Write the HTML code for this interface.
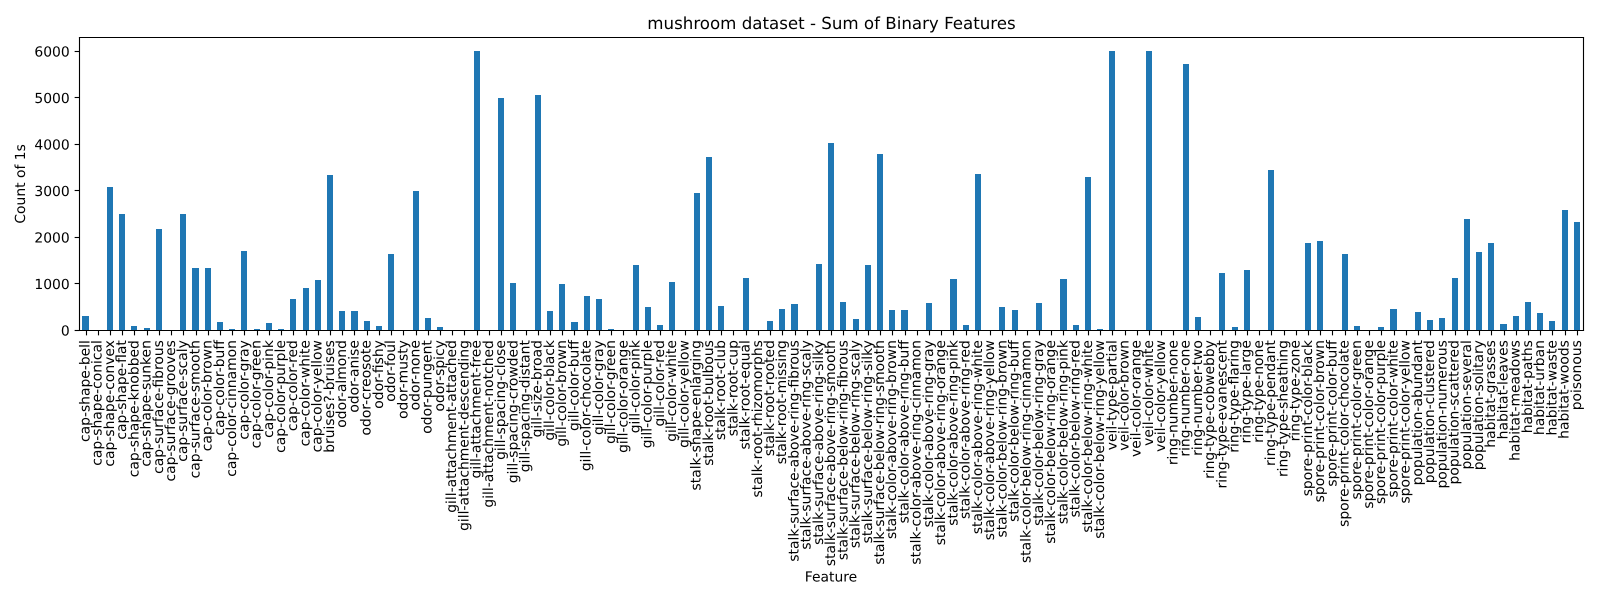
<!DOCTYPE html>
<html lang="en">
<head>
<meta charset="utf-8">
<title>mushroom dataset - Sum of Binary Features</title>
<style>
html,body{margin:0;padding:0;background:#fff;}
#chart{display:block;width:1600px;height:600px;}
text{font-family:"DejaVu Sans","Liberation Sans",sans-serif;fill:#000;text-rendering:geometricPrecision;}
</style>
</head>
<body>
<svg id="chart" xmlns="http://www.w3.org/2000/svg" width="1600" height="600" viewBox="0 0 1600 600">
  <rect x="0" y="0" width="1600" height="600" fill="#fff"/>
  <g id="bars"></g>
  <g id="x-ticks"></g>
  <g id="y-ticks"></g>
  <g id="spines"></g>
  <text x="831.5" y="29" font-size="16.67" text-anchor="middle">mushroom dataset - Sum of Binary Features</text>
  <text x="831" y="581.5" font-size="13.89" text-anchor="middle">Feature</text>
  <text transform="translate(25 183.9) rotate(-90)" font-size="13.89" text-anchor="middle">Count of 1s</text>
</svg>
<script>
const categories = [
  "cap-shape-bell","cap-shape-conical","cap-shape-convex","cap-shape-flat","cap-shape-knobbed","cap-shape-sunken",
  "cap-surface-fibrous","cap-surface-grooves","cap-surface-scaly","cap-surface-smooth",
  "cap-color-brown","cap-color-buff","cap-color-cinnamon","cap-color-gray","cap-color-green","cap-color-pink","cap-color-purple","cap-color-red","cap-color-white","cap-color-yellow",
  "bruises?-bruises",
  "odor-almond","odor-anise","odor-creosote","odor-fishy","odor-foul","odor-musty","odor-none","odor-pungent","odor-spicy",
  "gill-attachment-attached","gill-attachment-descending","gill-attachment-free","gill-attachment-notched",
  "gill-spacing-close","gill-spacing-crowded","gill-spacing-distant","gill-size-broad",
  "gill-color-black","gill-color-brown","gill-color-buff","gill-color-chocolate","gill-color-gray","gill-color-green","gill-color-orange","gill-color-pink","gill-color-purple","gill-color-red","gill-color-white","gill-color-yellow",
  "stalk-shape-enlarging",
  "stalk-root-bulbous","stalk-root-club","stalk-root-cup","stalk-root-equal","stalk-root-rhizomorphs","stalk-root-rooted","stalk-root-missing",
  "stalk-surface-above-ring-fibrous","stalk-surface-above-ring-scaly","stalk-surface-above-ring-silky","stalk-surface-above-ring-smooth",
  "stalk-surface-below-ring-fibrous","stalk-surface-below-ring-scaly","stalk-surface-below-ring-silky","stalk-surface-below-ring-smooth",
  "stalk-color-above-ring-brown","stalk-color-above-ring-buff","stalk-color-above-ring-cinnamon","stalk-color-above-ring-gray","stalk-color-above-ring-orange","stalk-color-above-ring-pink","stalk-color-above-ring-red","stalk-color-above-ring-white","stalk-color-above-ring-yellow",
  "stalk-color-below-ring-brown","stalk-color-below-ring-buff","stalk-color-below-ring-cinnamon","stalk-color-below-ring-gray","stalk-color-below-ring-orange","stalk-color-below-ring-pink","stalk-color-below-ring-red","stalk-color-below-ring-white","stalk-color-below-ring-yellow",
  "veil-type-partial",
  "veil-color-brown","veil-color-orange","veil-color-white","veil-color-yellow",
  "ring-number-none","ring-number-one","ring-number-two",
  "ring-type-cobwebby","ring-type-evanescent","ring-type-flaring","ring-type-large","ring-type-none","ring-type-pendant","ring-type-sheathing","ring-type-zone",
  "spore-print-color-black","spore-print-color-brown","spore-print-color-buff","spore-print-color-chocolate","spore-print-color-green","spore-print-color-orange","spore-print-color-purple","spore-print-color-white","spore-print-color-yellow",
  "population-abundant","population-clustered","population-numerous","population-scattered","population-several","population-solitary",
  "habitat-grasses","habitat-leaves","habitat-meadows","habitat-paths","habitat-urban","habitat-waste","habitat-woods",
  "poisonous"
];
const counts = [
  301,0,3075,2495,86,43,
  2172,0,2495,1333,
  1333,172,25,1699,20,150,20,667,903,1075,
  3333,
  409,409,194,86,1634,0,2989,258,65,
  0,0,6000,0,
  4996,1011,0,5054,
  409,989,172,731,667,22,0,1398,495,108,1032,0,
  2946,
  3720,516,0,1118,0,194,452,
  559,0,1419,4022,
  602,237,1398,3785,
  430,430,0,581,0,1097,108,3355,0,
  495,430,0,581,0,1097,108,3290,22,
  6000,
  0,0,6000,0,
  0,5720,280,
  0,1226,65,1290,0,3441,0,0,
  1871,1914,0,1634,86,0,65,452,0,
  387,215,258,1118,2387,1677,
  1871,129,301,602,366,194,2581,
  2323
];
const yTickValues = [0,1000,2000,3000,4000,5000,6000];

const SVG_NS = "http://www.w3.org/2000/svg";
const plotLeft = 79.41, plotRight = 1583.0, plotTop = 37.4, plotBottom = 330.4;
const xDomainMin = -0.5, xDomainMax = categories.length - 0.5;
const yDomainMin = 0, yDomainMax = Math.max(...counts) * 1.05;
const barWidthUnits = 0.5;
const TICK_LEN = 4.86, TICK_PAD = 4.86, TICK_W = 1.11;

function xScale(i){
  return plotLeft + (i - xDomainMin) / (xDomainMax - xDomainMin) * (plotRight - plotLeft);
}
function yScale(v){
  return plotBottom - (v - yDomainMin) / (yDomainMax - yDomainMin) * (plotBottom - plotTop);
}
function snapLine(p){ return Math.floor(p + 0.5) + 0.5; }
function snapEdge(p){ return Math.floor(p + 0.5); }
function node(tag, attrs){
  const el = document.createElementNS(SVG_NS, tag);
  for (const k in attrs) el.setAttribute(k, attrs[k]);
  return el;
}

const barsG = document.getElementById("bars");
const xTicksG = document.getElementById("x-ticks");
const yTicksG = document.getElementById("y-ticks");
const spinesG = document.getElementById("spines");
const axisBottomPx = snapLine(plotBottom - 0.5);

categories.forEach(function(name, i){
  const x0 = snapEdge(xScale(i - barWidthUnits / 2));
  const x1 = snapEdge(xScale(i + barWidthUnits / 2));
  const yTop = snapEdge(yScale(counts[i]));
  const yBase = snapEdge(yScale(0));
  const bar = node("rect", {x: x0, y: yTop, width: x1 - x0, height: Math.max(0, yBase - yTop), fill: "#1f77b4", "shape-rendering": "crispEdges"});
  
  
  barsG.appendChild(bar);

  const tx = snapLine(xScale(i) - 0.0);
  const tick = node("line", {x1: tx, x2: tx, y1: axisBottomPx, y2: axisBottomPx + TICK_LEN, stroke: "#000", "stroke-width": TICK_W});
  
  
  xTicksG.appendChild(tick);

  const lx = xScale(i) + 3.9;
  const ly = plotBottom + TICK_LEN + TICK_PAD;
  const label = node("text", {transform: "translate(" + lx.toFixed(2) + " " + ly.toFixed(2) + ") rotate(-90)", "font-size": "13.89", "text-anchor": "end"});
  label.textContent = name;
  
  
  xTicksG.appendChild(label);
});

yTickValues.forEach(function(v){
  const ty = snapLine(yScale(v) - 0.5);
  const tick = node("line", {x1: snapLine(plotLeft - 0.5) , x2: snapLine(plotLeft - 0.5) - TICK_LEN, y1: ty, y2: ty, stroke: "#000", "stroke-width": TICK_W});
  
  
  yTicksG.appendChild(tick);

  const label = node("text", {x: (plotLeft - TICK_LEN - TICK_PAD).toFixed(2), y: (yScale(v) + 5.05).toFixed(2), "font-size": "13.89", "text-anchor": "end"});
  label.textContent = String(v);
  
  
  yTicksG.appendChild(label);
});

const frameLeft = snapLine(plotLeft - 0.5);
const frameRight = snapLine(plotRight - 0.5);
const frameTop = snapLine(plotTop - 0.5);
const frameBottom = axisBottomPx;

const spineLeft = node("line", {x1: frameLeft, x2: frameLeft, y1: frameTop - 0.55, y2: frameBottom + 0.55, stroke: "#000", "stroke-width": TICK_W});


spinesG.appendChild(spineLeft);

const spineRight = node("line", {x1: frameRight, x2: frameRight, y1: frameTop - 0.55, y2: frameBottom + 0.55, stroke: "#000", "stroke-width": TICK_W});


spinesG.appendChild(spineRight);

const spineTop = node("line", {x1: frameLeft - 0.55, x2: frameRight + 0.55, y1: frameTop, y2: frameTop, stroke: "#000", "stroke-width": TICK_W});


spinesG.appendChild(spineTop);

const spineBottom = node("line", {x1: frameLeft - 0.55, x2: frameRight + 0.55, y1: frameBottom, y2: frameBottom, stroke: "#000", "stroke-width": TICK_W});


spinesG.appendChild(spineBottom);
</script>
</body>
</html>
